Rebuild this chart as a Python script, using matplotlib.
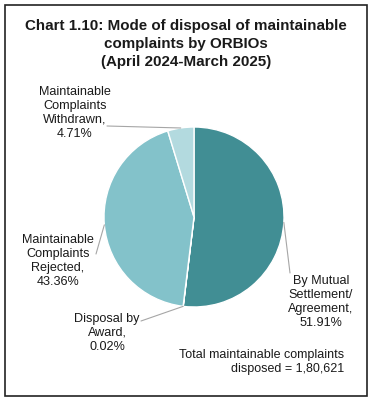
import numpy as np
import matplotlib.pyplot as plt
from matplotlib.patches import Rectangle

plt.rcParams["font.family"] = ["Liberation Sans", "DejaVu Sans"]

categories = [
    "By Mutual\nSettlement/\nAgreement,",
    "Disposal by\nAward,",
    "Maintainable\nComplaints\nRejected,",
    "Maintainable\nComplaints\nWithdrawn,",
]
shares = [51.91, 0.02, 43.36, 4.71]
colors = ["#418E94", "#3F8A90", "#83C2CA", "#B3DADF"]
total_text = "Total maintainable complaints\ndisposed = 1,80,621"

# label text anchor (figure pixels, from top-left) and leader start
label_pos = [(321, 302), (107, 333), (58, 261), (75, 113)]
leader_end = [(290, 274), (141, 322), (96, 255), (107, 127)]

W, H = 372, 402
fig = plt.figure(figsize=(W / 100, H / 100), dpi=100)
fig.patches.append(Rectangle((5 / W, 5 / H), 362 / W, 391 / H, transform=fig.transFigure,
                             fill=False, edgecolor="#222222", linewidth=1.2))

title_lines = ["Chart 1.10: Mode of disposal of maintainable",
               "complaints by ORBIOs",
               "(April 2024-March 2025)"]
for i, line in enumerate(title_lines):
    fig.text(0.5, 1 - (26 + 18 * i) / H, line, ha="center", va="center",
             fontsize=10.9, fontweight="bold", color="#1a1a1a")

cx, cy, r = 194, 218, 90
ax = fig.add_axes([(cx - r) / W, 1 - (cy + r) / H, 2 * r / W, 2 * r / H])
wedges, _ = ax.pie(shares, colors=colors, startangle=90, counterclock=False, radius=1,
                   wedgeprops=dict(edgecolor="white", linewidth=1.0))
ax.set_xlim(-1, 1)
ax.set_ylim(-1, 1)
ax.set_aspect("equal")
ax.axis("off")

for w, cat, val, (tx, ty), (lx, ly) in zip(wedges, categories, shares, label_pos, leader_end):
    ang = np.deg2rad((w.theta1 + w.theta2) / 2)
    px, py = np.cos(ang), np.sin(ang)
    fig.text(tx / W, 1 - ty / H, f"{cat}\n{val:.2f}%", ha="center", va="center",
             fontsize=9.1, color="#1a1a1a", linespacing=1.2)
    ax.annotate("", xy=(px, py), xycoords="data",
                xytext=(lx / W, 1 - ly / H), textcoords="figure fraction",
                arrowprops=dict(arrowstyle="-", color="#A6A6A6", linewidth=0.8,
                                shrinkA=0, shrinkB=0))

fig.text(344 / W, 1 - 362 / H, total_text, ha="right", va="center", fontsize=9.0,
         color="#1a1a1a", multialignment="right", linespacing=1.2)

fig.savefig("out.png", dpi=100)
